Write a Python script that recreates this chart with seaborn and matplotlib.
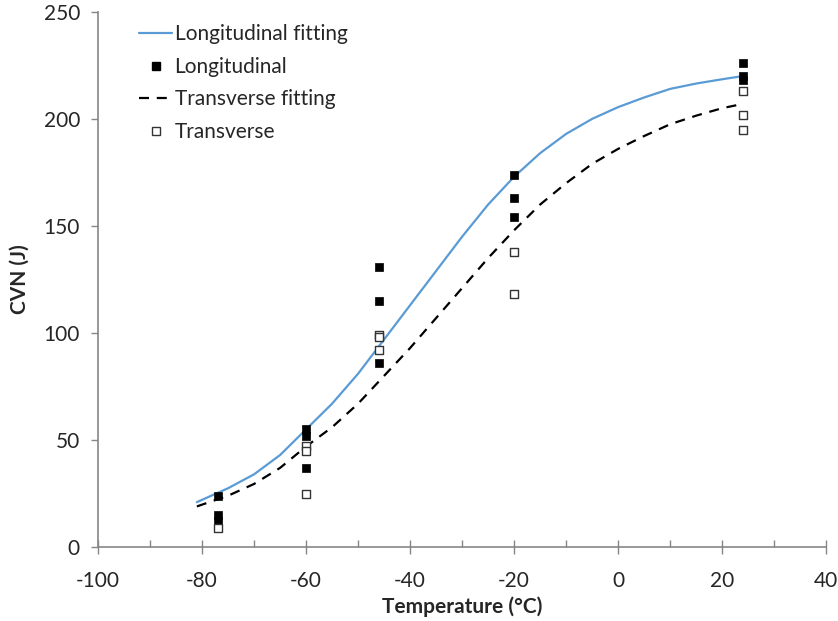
import matplotlib
matplotlib.use("Agg")
import matplotlib.pyplot as plt
import seaborn as sns
import pandas as pd
from matplotlib.lines import Line2D
from matplotlib.ticker import MultipleLocator

sns.set_theme(style="white")
plt.rcParams['font.family'] = ['Lato', 'DejaVu Sans']
plt.rcParams['axes.unicode_minus'] = False

# Measured data
long_temp = [-77, -77, -77, -60, -60, -60, -46, -46, -46, -20, -20, -20, 24, 24, 24]
long_cvn = [24, 15, 12, 55, 52, 37, 131, 115, 86, 174, 163, 154, 226, 220, 218]
trans_temp = [-77, -60, -60, -60, -46, -46, -46, -20, -20, 24, 24, 24]
trans_cvn = [9, 47, 45, 25, 99, 98, 92, 138, 118, 213, 202, 195]

# Fitted curves
fit_temp = [-81, -75, -70, -65, -60, -55, -50, -45, -40, -35, -30, -25, -20,
            -15, -10, -5, 0, 5, 10, 15, 20, 24]
long_fit = [21, 27.5, 34, 43, 55, 67, 81, 97, 113, 129, 145, 160, 173,
            184, 193, 200, 205.5, 210, 214, 216.5, 218.5, 220]
trans_fit = [19, 24, 29.5, 37, 47, 56, 67, 80, 93, 107, 121, 135, 148,
             160, 170, 179, 186, 192, 197.5, 201.5, 205, 207]

fig = plt.figure(figsize=(8.38, 6.21), dpi=100)
ax = fig.add_axes([0.117, 0.119, 0.869, 0.862])

blue = '#5B9BD5'
df_fit = pd.DataFrame({'T': fit_temp, 'L': long_fit, 'Tr': trans_fit})
sns.lineplot(data=df_fit, x='T', y='L', ax=ax, color=blue, lw=1.6, sort=False)
sns.lineplot(data=df_fit, x='T', y='Tr', ax=ax, color='black', lw=1.6, sort=False,
             dashes=False)
ax.lines[-1].set_dashes([4.5, 3.5])

sns.scatterplot(x=long_temp, y=long_cvn, ax=ax, marker='s', s=36, color='black',
                edgecolor='black', linewidth=0.5, zorder=3)
sns.scatterplot(x=trans_temp, y=trans_cvn, ax=ax, marker='s', s=36, facecolor='white',
                edgecolor='#333333', linewidth=1.0, zorder=3)

ax.set_xlim(-100, 40)
ax.set_ylim(0, 250)
ax.xaxis.set_major_locator(MultipleLocator(20))
ax.xaxis.set_minor_locator(MultipleLocator(10))
ax.yaxis.set_major_locator(MultipleLocator(50))

grey = '#868686'
for s in ['top', 'right']:
    ax.spines[s].set_visible(False)
for s in ['left', 'bottom']:
    ax.spines[s].set_color(grey)
    ax.spines[s].set_linewidth(1.2)

ax.tick_params(axis='x', which='major', direction='inout', length=10, width=1.0,
               color=grey, labelsize=15, pad=12, bottom=True)
ax.tick_params(axis='x', which='minor', direction='in', length=5, width=1.0,
               color=grey, bottom=True)
ax.tick_params(axis='y', which='major', direction='out', length=5, width=1.0,
               color=grey, labelsize=15, pad=8, left=True)

ax.set_xlabel('Temperature (°C)', fontsize=15, fontweight='bold', labelpad=4)
ax.set_ylabel('CVN (J)', fontsize=15, fontweight='bold', labelpad=10)

handles = [
    Line2D([], [], color=blue, lw=1.6),
    Line2D([], [], ls='none', marker='s', color='black', markersize=5.5),
    Line2D([], [], color='black', lw=1.6, dashes=[4.5, 3.5]),
    Line2D([], [], ls='none', marker='s', markerfacecolor='white',
           markeredgecolor='#333333', markersize=5.5),
]
labels = ['Longitudinal fitting', 'Longitudinal', 'Transverse fitting', 'Transverse']
ax.legend(handles, labels, loc='upper left', bbox_to_anchor=(0.045, 0.992),
          frameon=False, fontsize=15, handlelength=1.6, handletextpad=0.1,
          labelspacing=0.6, borderaxespad=0)

fig.savefig('out.png', dpi=100)
